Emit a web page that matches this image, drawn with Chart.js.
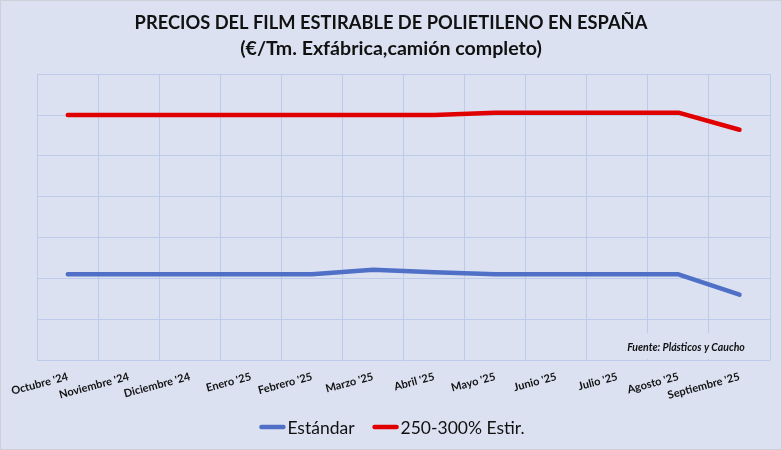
<!DOCTYPE html>
<html>
<head>
<meta charset="utf-8">
<script src="https://cdn.jsdelivr.net/npm/chart.js@4"></script>
<style>
html,body{margin:0;padding:0;background:#DCE1F2;}
#wrap{width:782px;height:450px;position:relative;}
</style>
</head>
<body>
<div id="wrap"><canvas id="c" width="782" height="450"></canvas></div>
<script>
const categories = ["Octubre '24","Noviembre '24","Diciembre '24","Enero '25","Febrero '25","Marzo '25","Abril '25","Mayo '25","Junio '25","Julio '25","Agosto '25","Septiembre '25"];
const estandar = [1410,1410,1410,1410,1410,1421,1415,1410,1410,1410,1410,1360];
const estir250 = [1800,1800,1800,1800,1800,1800,1800,1806,1806,1806,1806,1764];
const titleText = "PRECIOS DEL FILM ESTIRABLE DE POLIETILENO EN ESPAÑA";
const subtitleText = "(€/Tm. Exfábrica,camión completo)";
const sourceText = "Fuente: Plásticos y Caucho";
const seriesNames = ["Estándar","250-300% Estir."];

const BG = '#DCE1F2';
const GRID = '#BCCBEA';

const bgPlugin = {
  id: 'bg',
  beforeDraw(chart){
    const ctx = chart.ctx;
    ctx.save();
    ctx.fillStyle = BG;
    ctx.fillRect(0,0,chart.width,chart.height);
    ctx.strokeStyle = '#CDD0D8';
    ctx.lineWidth = 1;
    ctx.strokeRect(0.5,0.5,chart.width-1,chart.height-1);
    ctx.restore();
  },
  beforeDatasetsDraw(chart){
    const ctx = chart.ctx;
    const a = chart.chartArea;
    ctx.save();
    ctx.fillStyle = BG;
    ctx.fillRect(a.right-152, a.bottom-27, 150, 26);
    ctx.fillStyle = '#111';
    ctx.font = 'italic bold 10.5px Lato';
    ctx.textAlign = 'center';
    ctx.textBaseline = 'middle';
    ctx.fillText(sourceText, a.right-84, a.bottom-12);
    ctx.restore();
  },
  afterDraw(chart){
    // legend drawn from dataset labels and colours
    const ctx = chart.ctx;
    ctx.save();
    ctx.font = '17.5px Lato';
    ctx.textBaseline = 'middle';
    ctx.textAlign = 'left';
    const lineW = 26, gap = 2, itemGap = 18;
    const ds = chart.data.datasets;
    let total = 0;
    ds.forEach((d,i)=>{ total += lineW + gap + ctx.measureText(d.label).width + (i<ds.length-1?itemGap:0); });
    let x = (chart.width - total)/2 + 1;
    const y = 427;
    ds.forEach(d=>{
      ctx.strokeStyle = d.borderColor;
      ctx.lineWidth = 4.5;
      ctx.lineCap = 'round';
      ctx.beginPath();
      ctx.moveTo(x+2, y);
      ctx.lineTo(x+lineW-2, y);
      ctx.stroke();
      x += lineW + gap;
      ctx.fillStyle = '#111';
      ctx.fillText(d.label, x, y+1);
      x += ctx.measureText(d.label).width + itemGap;
    });
    ctx.restore();
  }
};

new Chart(document.getElementById('c'), {
  type: 'line',
  data: {
    labels: categories,
    datasets: [
      {label: seriesNames[0], data: estandar, borderColor:'#4F70C6', backgroundColor:'#4F70C6', borderWidth:4.5, pointRadius:0, tension:0, borderCapStyle:'round', borderJoinStyle:'round'},
      {label: seriesNames[1], data: estir250, borderColor:'#E00000', backgroundColor:'#E00000', borderWidth:4.5, pointRadius:0, tension:0, borderCapStyle:'round', borderJoinStyle:'round'}
    ]
  },
  options: {
    responsive:false,
    animation:false,
    devicePixelRatio:1,
    layout:{padding:{left:12,right:12,top:0,bottom:41}},
    plugins:{
      title:{display:true, text:titleText, color:'#111', font:{family:'Lato', weight:'bold', size:18.3, lineHeight:1.3}, padding:{top:11,bottom:1}},
      subtitle:{display:true, text:subtitleText, color:'#111', font:{family:'Lato', weight:'bold', size:19.6, lineHeight:1.3}, padding:{top:0,bottom:13}},
      legend:{display:false},
      tooltip:{enabled:false}
    },
    scales:{
      x:{
        offset:true,
        grid:{offset:true, color:GRID, drawTicks:false},
        border:{display:false},
        ticks:{color:'#111', font:{family:'Lato', weight:'bold', size:11}, minRotation:15, maxRotation:15, padding:10, autoSkip:false},
        afterFit(s){ s.height = 49; }
      },
      y:{
        min:1200, max:1900,
        grid:{color:GRID, drawTicks:false},
        border:{display:false},
        ticks:{display:false, stepSize:100},
        afterFit(s){ s.width = 25; }
      }
    }
  },
  plugins:[bgPlugin]
});
</script>
</body>
</html>
